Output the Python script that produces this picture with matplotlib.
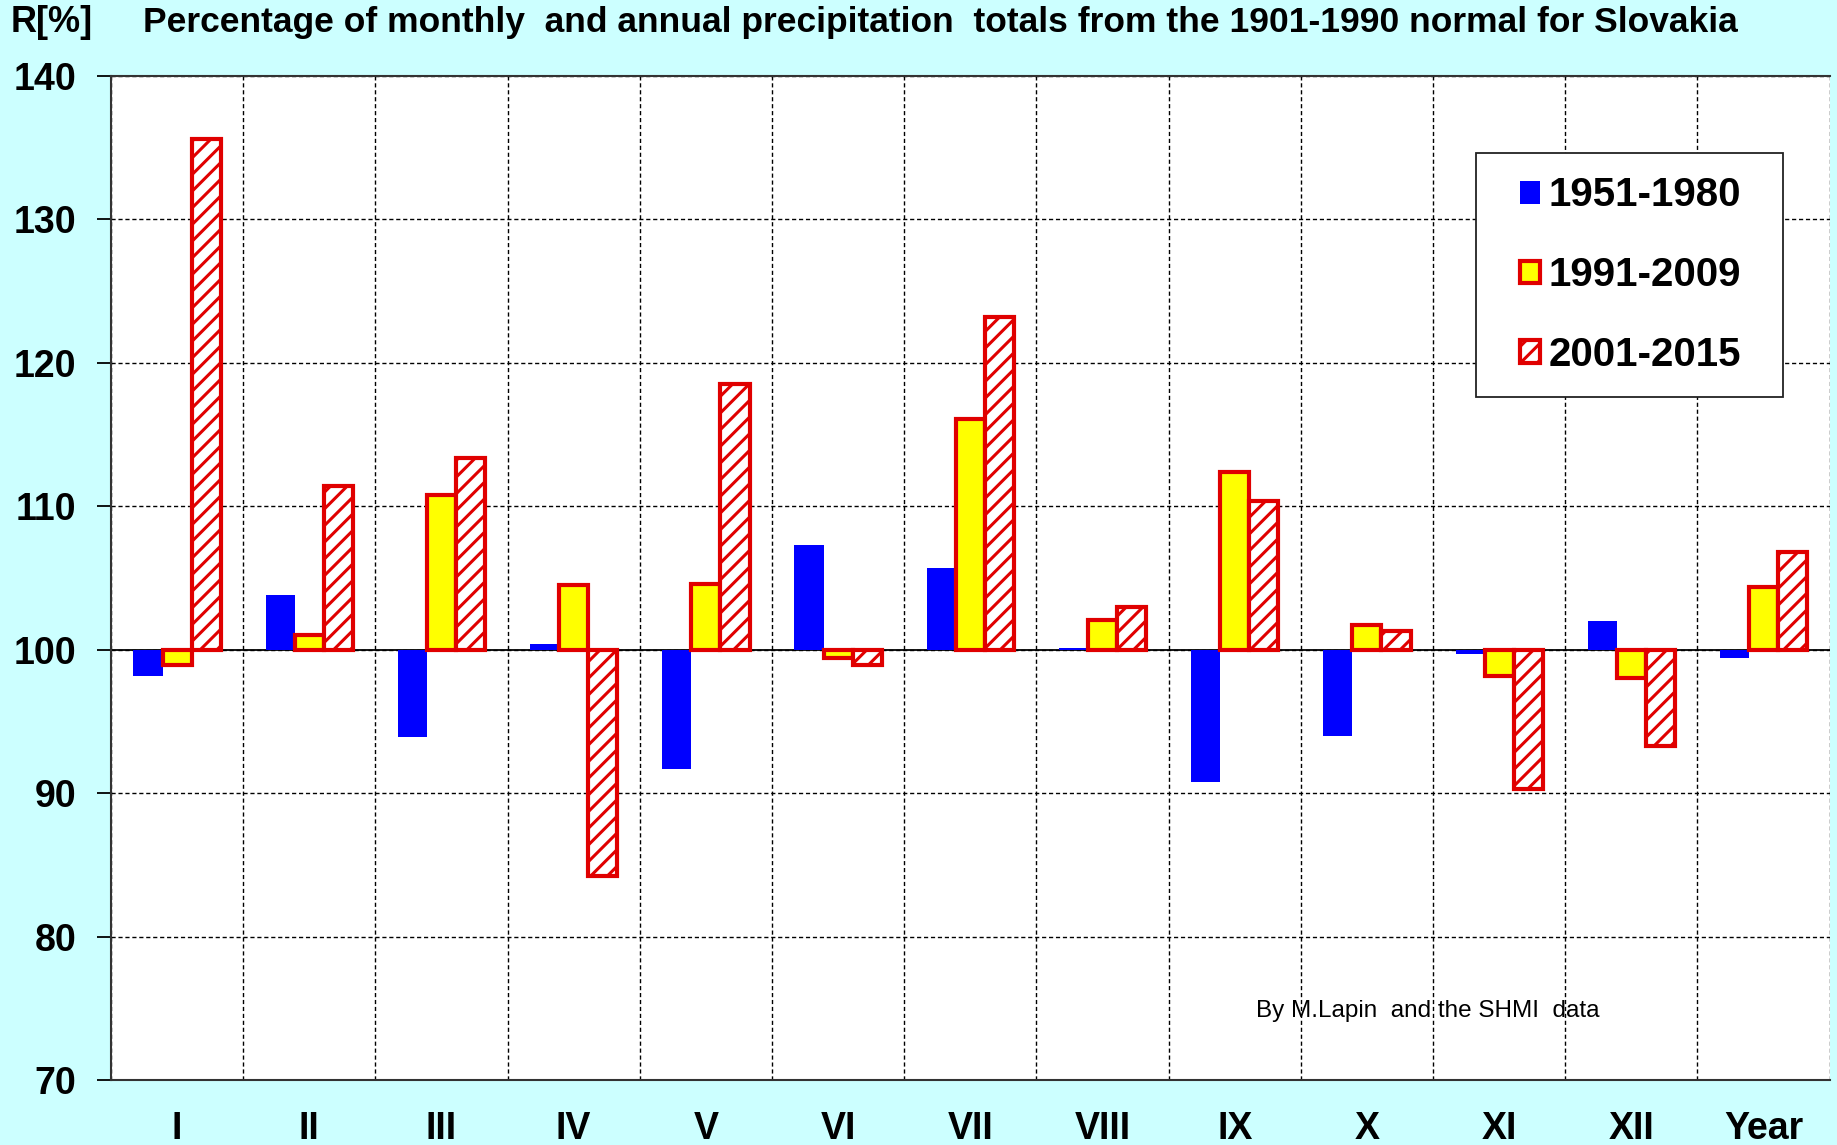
import matplotlib
matplotlib.use("Agg")
import matplotlib.pyplot as plt
from matplotlib.patches import Rectangle
import numpy as np

# categories and values (percent of 1901-1990 normal)
months = ['I', 'II', 'III', 'IV', 'V', 'VI', 'VII', 'VIII', 'IX', 'X', 'XI', 'XII', 'Year']
p1951_1980 = [98.2, 103.8, 93.9, 100.4, 91.7, 107.3, 105.7, 100.1, 90.8, 94.0, 99.7, 102.0, 99.4]
p1991_2009 = [98.9, 101.0, 110.8, 104.5, 104.6, 99.4, 116.1, 102.1, 112.4, 101.7, 98.2, 98.0, 104.4]
p2001_2015 = [135.6, 111.4, 113.4, 84.2, 118.5, 98.9, 123.2, 103.0, 110.4, 101.3, 90.3, 93.3, 106.8]
series_names = ['1951-1980', '1991-2009', '2001-2015']

base = 100
plt.rcParams['font.family'] = ['Liberation Sans', 'DejaVu Sans']
plt.rcParams['hatch.linewidth'] = 2.2

bg = '#CCFFFF'
fig = plt.figure(figsize=(18.37, 11.45), dpi=100, facecolor=bg)
ax = fig.add_axes([0.0604, 0.0568, 0.9356, 0.8768])
ax.set_facecolor('white')

x = np.arange(len(months))
w = 0.22
ax.bar(x - w, np.array(p1951_1980) - base, w, bottom=base, color='#0000FF',
       edgecolor='#0000FF', linewidth=0, label=series_names[0], zorder=3)
ax.bar(x, np.array(p1991_2009) - base, w, bottom=base, color='#FFFF00',
       edgecolor='#E00000', linewidth=3, label=series_names[1], zorder=3)
ax.bar(x + w, np.array(p2001_2015) - base, w, bottom=base, color='white',
       edgecolor='#E00000', linewidth=3, hatch='//', label=series_names[2], zorder=3)

ax.axhline(base, color='black', lw=1.3, zorder=2)

ax.set_xlim(-0.5, len(months) - 0.5)
ax.set_ylim(70, 140)
ax.set_yticks(range(70, 141, 10))
ax.set_xticks(x)
ax.set_xticklabels(months)
ax.set_xticks(np.arange(-0.5, len(months), 1), minor=True)

ax.grid(True, which='major', axis='y', color='black', ls=(0, (3, 2)), lw=1.0)
ax.grid(True, which='minor', axis='x', color='black', ls=(0, (3, 2)), lw=1.0)
ax.set_axisbelow(True)

ax.tick_params(axis='y', labelsize=27, length=10, width=1.3, pad=15)
ax.tick_params(axis='x', which='major', labelsize=27, length=0, pad=22)
ax.tick_params(axis='x', which='minor', length=0)
for lab in ax.get_xticklabels() + ax.get_yticklabels():
    lab.set_fontweight('bold')

for s in ['left', 'bottom', 'top']:
    ax.spines[s].set_color('#333333')
    ax.spines[s].set_linewidth(1.5)
ax.spines['right'].set_visible(False)

fig.text(0.006, 0.98, 'R[%]', fontsize=26, fontweight='bold', va='center', ha='left')
fig.text(0.078, 0.98,
         'Percentage of monthly  and annual precipitation  totals from the 1901-1990 normal for Slovakia',
         fontsize=25.5, fontweight='bold', va='center', ha='left')

ax.text(0.666, 0.069, 'By M.Lapin  and the SHMI  data', transform=ax.transAxes,
        fontsize=17.5, ha='left', va='center')

# legend box drawn separately, wider padding left/right than top/bottom
ax.add_patch(Rectangle((0.794, 0.680), 0.179, 0.243, transform=ax.transAxes,
                       facecolor='white', edgecolor='#222222', lw=1.3, zorder=4))
leg = ax.legend(loc='center', bbox_to_anchor=(0.884, 0.8015),
                prop={'weight': 'bold', 'size': 29}, frameon=False,
                handlelength=0.5, handleheight=0.5,
                handletextpad=0.2, labelspacing=1.04, borderpad=0, borderaxespad=0)
leg.set_zorder(5)

fig.savefig('out.png', dpi=100, facecolor=bg)
